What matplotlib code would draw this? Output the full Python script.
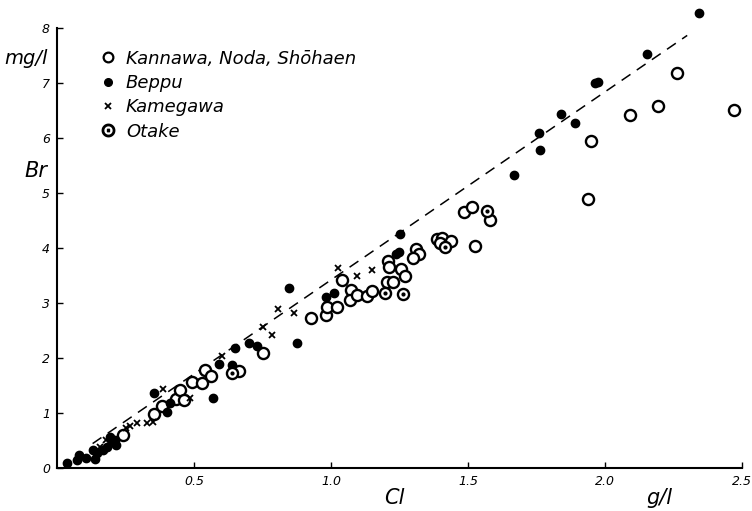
import matplotlib.pyplot as plt
from matplotlib.lines import Line2D

# Kannawa, Noda, Shohaen (open circles)
open_x = [0.242, 0.355, 0.382, 0.434, 0.449, 0.463, 0.491, 0.528, 0.540, 0.561,
          0.665, 0.751, 0.927, 0.982, 0.984, 1.023, 1.041, 1.072, 1.069, 1.096,
          1.130, 1.151, 1.203, 1.225, 1.209, 1.212, 1.254, 1.270, 1.310, 1.320,
          1.300, 1.386, 1.406, 1.398, 1.437, 1.526, 1.485, 1.513, 1.580, 1.939,
          1.948, 2.092, 2.195, 2.262, 2.472]
open_y = [0.60, 0.98, 1.13, 1.26, 1.42, 1.24, 1.57, 1.54, 1.78, 1.67,
          1.77, 2.10, 2.72, 2.78, 2.92, 2.93, 3.41, 3.24, 3.05, 3.15,
          3.13, 3.22, 3.39, 3.38, 3.76, 3.66, 3.61, 3.50, 3.99, 3.89,
          3.81, 4.16, 4.19, 4.09, 4.13, 4.04, 4.66, 4.74, 4.51, 4.89,
          5.94, 6.41, 6.59, 7.19, 6.51]

# Beppu (filled)
beppu_x = [0.035, 0.072, 0.080, 0.106, 0.133, 0.139, 0.145, 0.169, 0.181, 0.193,
           0.200, 0.212, 0.215, 0.354, 0.403, 0.412, 0.570, 0.592, 0.638, 0.650,
           0.702, 0.729, 0.848, 0.875, 0.981, 1.012, 1.237, 1.249, 1.252, 1.669,
           1.760, 1.763, 1.839, 1.890, 1.963, 1.975, 2.152, 2.343]
beppu_y = [0.10, 0.15, 0.24, 0.18, 0.33, 0.16, 0.28, 0.33, 0.39, 0.57,
           0.48, 0.51, 0.42, 1.36, 1.02, 1.19, 1.28, 1.89, 1.87, 2.19,
           2.28, 2.21, 3.27, 2.28, 3.11, 3.18, 3.90, 3.93, 4.25, 5.33,
           6.10, 5.79, 6.43, 6.28, 7.00, 7.02, 7.52, 8.28]

# Kamegawa (x)
kame_x = [0.157, 0.179, 0.252, 0.266, 0.291, 0.327, 0.349, 0.388, 0.485, 0.601,
          0.753, 0.784, 0.808, 0.866, 1.027, 1.094, 1.149]
kame_y = [0.39, 0.51, 0.72, 0.76, 0.82, 0.81, 0.84, 1.43, 1.27, 2.04,
          2.57, 2.42, 2.89, 2.81, 3.64, 3.49, 3.60]

# Otake (circle with dot)
otake_x = [0.638, 1.197, 1.263, 1.416, 1.570]
otake_y = [1.72, 3.18, 3.16, 4.01, 4.67]

# reference line Br = k * Cl
line_x = [0.13, 2.30]
slope = 3.42
line_y = [slope * v for v in line_x]

xticks = [0.5, 1.0, 1.5, 2.0, 2.5]
xtick_labels = ['0.5', '1.0', '1.5', '2.0', '2.5']
yticks = [0, 1, 2, 3, 4, 5, 6, 7, 8]

plt.rcParams['font.family'] = 'DejaVu Sans'
plt.rcParams['font.style'] = 'italic'

fig = plt.figure(figsize=(7.52, 5.11), dpi=100)
ax = fig.add_axes([0.0758, 0.0841, 0.9109, 0.861])

ax.plot(line_x, line_y, color='black', lw=1.1, dashes=(7, 5))
ax.plot(open_x, open_y, 'o', mfc='white', mec='black', mew=1.7, ms=8, clip_on=False)
ax.plot(beppu_x, beppu_y, 'o', color='black', ms=6, clip_on=False)
ax.plot(kame_x, kame_y, 'x', color='black', mew=1.3, ms=5, clip_on=False)
ax.plot(otake_x, otake_y, 'o', mfc='white', mec='black', mew=1.7, ms=8, clip_on=False)
ax.plot(otake_x, otake_y, 'o', color='black', ms=2, clip_on=False)

ax.set_xlim(0, 2.5)
ax.set_ylim(0, 8)
ax.spines['top'].set_visible(False)
ax.spines['right'].set_visible(False)
ax.spines['left'].set_linewidth(1.5)
ax.spines['bottom'].set_linewidth(1.5)
ax.set_xticks(xticks)
ax.set_xticklabels(xtick_labels)
ax.set_yticks(yticks)
ax.tick_params(direction='in', length=4, width=1, labelsize=9, pad=5)

ax.text(-0.035, 7.45, 'mg/l', fontsize=14, ha='right', va='center')
ax.text(-0.035, 5.4, 'Br', fontsize=15, ha='right', va='center')
ax.text(1.23, -0.55, 'Cl', fontsize=15, ha='center', va='center')
ax.text(2.2, -0.55, 'g/l', fontsize=15, ha='center', va='center')

handles = [
    Line2D([], [], ls='none', marker='o', mfc='white', mec='black', mew=1.6, ms=7),
    Line2D([], [], ls='none', marker='o', color='black', ms=5.5),
    Line2D([], [], ls='none', marker='x', color='black', mew=1.3, ms=5),
    Line2D([], [], ls='none', marker='$\\odot$', color='black', ms=9),
]
labels = ['Kannawa, Noda, Shōhaen', 'Beppu', 'Kamegawa', 'Otake']
ax.legend(handles, labels, loc='upper left', bbox_to_anchor=(0.04, 0.988),
          frameon=False, fontsize=13, handlelength=0.8, handletextpad=0.6,
          labelspacing=0.35)

fig.savefig('out.png', dpi=100)
